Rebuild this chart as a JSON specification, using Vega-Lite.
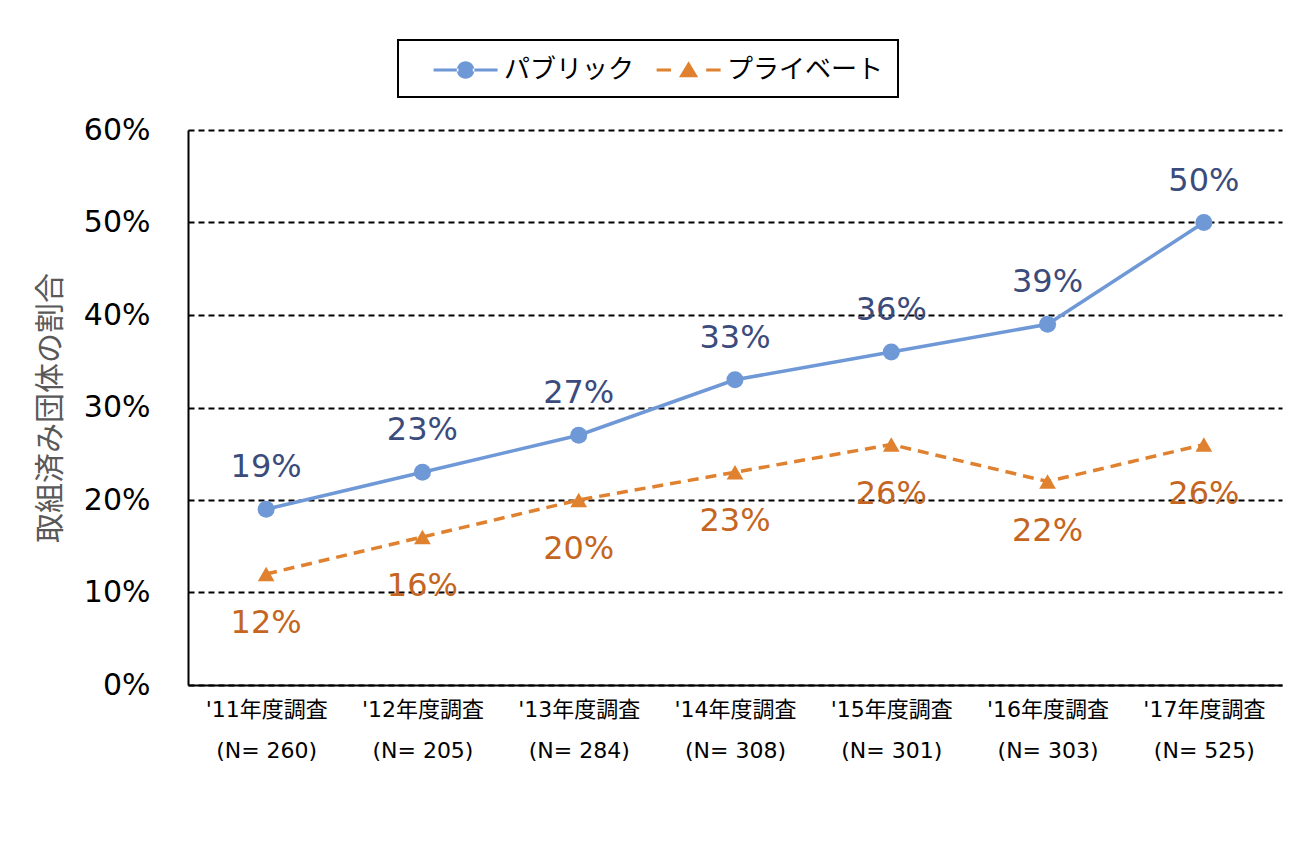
{
  "$schema": "https://vega.github.io/schema/vega-lite/v6.json",
  "autosize": {"type": "none"},
  "width": 1094,
  "height": 555,
  "padding": {"left": 188, "top": 130, "right": 31, "bottom": 157},
  "background": "white",
  "config": {
    "view": {"stroke": null},
    "font": "Noto Sans CJK JP"
  },
  "data": {
    "values": [
      {"year": "'11年度調査|(N= 260)", "series": "パブリック", "value": 0.19},
      {"year": "'12年度調査|(N= 205)", "series": "パブリック", "value": 0.23},
      {"year": "'13年度調査|(N= 284)", "series": "パブリック", "value": 0.27},
      {"year": "'14年度調査|(N= 308)", "series": "パブリック", "value": 0.33},
      {"year": "'15年度調査|(N= 301)", "series": "パブリック", "value": 0.36},
      {"year": "'16年度調査|(N= 303)", "series": "パブリック", "value": 0.39},
      {"year": "'17年度調査|(N= 525)", "series": "パブリック", "value": 0.50},
      {"year": "'11年度調査|(N= 260)", "series": "プライベート", "value": 0.12},
      {"year": "'12年度調査|(N= 205)", "series": "プライベート", "value": 0.16},
      {"year": "'13年度調査|(N= 284)", "series": "プライベート", "value": 0.20},
      {"year": "'14年度調査|(N= 308)", "series": "プライベート", "value": 0.23},
      {"year": "'15年度調査|(N= 301)", "series": "プライベート", "value": 0.26},
      {"year": "'16年度調査|(N= 303)", "series": "プライベート", "value": 0.22},
      {"year": "'17年度調査|(N= 525)", "series": "プライベート", "value": 0.26}
    ]
  },
  "encoding": {
    "x": {
      "field": "year", "type": "ordinal", "sort": null,
      "scale": {"type": "point", "padding": 0.5},
      "axis": {
        "title": null, "labelAngle": 0, "ticks": false, "grid": false,
        "domainColor": "black", "domainWidth": 2,
        "labelExpr": "split(datum.value, '|')",
        "labelFontSize": 22, "labelColor": "black", "labelLineHeight": 41,
        "labelPadding": 14, "labelFont": "DejaVu Sans, Noto Sans CJK JP"
      }
    },
    "y": {
      "field": "value", "type": "quantitative",
      "scale": {"domain": [0, 0.6]},
      "axis": {
        "title": "取組済み団体の割合", "titleFontSize": 30, "titleColor": "#595959",
        "titleFontWeight": "normal", "titlePadding": 18, "titleFont": "Noto Sans CJK JP",
        "format": ".0%", "values": [0, 0.1, 0.2, 0.3, 0.4, 0.5, 0.6],
        "labelFontSize": 30, "labelColor": "black", "labelPadding": 38,
        "labelFont": "DejaVu Sans",
        "ticks": false,
        "domainColor": "black", "domainWidth": 2,
        "grid": true, "gridColor": "black", "gridWidth": 2, "gridDash": [6, 4]
      }
    }
  },
  "layer": [
    {
      "transform": [{"filter": "datum.series == 'パブリック'"}],
      "mark": {"type": "line", "strokeWidth": 3.5, "color": "#6F98D6"},
      "encoding": {}
    },
    {
      "transform": [{"filter": "datum.series == 'プライベート'"}],
      "mark": {"type": "line", "strokeWidth": 3.5, "color": "#E0812F", "strokeDash": [11, 7]},
      "encoding": {}
    },
    {
      "mark": {"type": "point", "filled": true, "opacity": 0},
      "encoding": {
        "color": {"field": "series", "type": "nominal", "scale": {"domain": ["パブリック", "プライベート"], "range": ["#6F98D6", "#E0812F"]},
          "legend": {
            "title": null, "orient": "none", "legendX": 210, "legendY": -90,
            "direction": "horizontal", "strokeColor": "black",
            "padding": 14, "labelFontSize": 26, "labelColor": "black", "labelFont": "Noto Sans CJK JP",
            "symbolSize": 1024, "labelOffset": 60, "columnPadding": 0, "symbolStrokeWidth": 0,
            "symbolOpacity": 1,
            "encode": {
              "legend": {"update": {"strokeWidth": {"value": 2}}}
            }
          }
        },
        "shape": {"field": "series", "type": "nominal", "scale": {"domain": ["パブリック", "プライベート"], "range": [
          "M0.35,-0.1 H1.9 V0.1 H0.35 Z M2.8,-0.1 H4.35 V0.1 H2.8 Z M1.8,0 A0.55,0.55 0 1,0 2.9,0 A0.55,0.55 0 1,0 1.8,0 Z",
          "M0.35,-0.1 H1.25 V0.1 H0.35 Z M3.45,-0.1 H4.35 V0.1 H3.45 Z M2.35,-0.55 L2.95,0.45 L1.75,0.45 Z"
        ]}}
      }
    },
    {
      "transform": [{"filter": "datum.series == 'パブリック'"}],
      "mark": {"type": "point", "filled": true, "opacity": 1, "size": 290, "shape": "circle", "color": "#6F98D6"},
      "encoding": {}
    },
    {
      "transform": [{"filter": "datum.series == 'プライベート'"}],
      "mark": {"type": "point", "filled": true, "opacity": 1, "size": 280, "shape": "triangle-up", "color": "#E0812F"},
      "encoding": {}
    },
    {
      "transform": [{"filter": "datum.series == 'パブリック'"}],
      "mark": {"type": "text", "dy": -42, "fontSize": 32, "color": "#3B4C7C", "font": "DejaVu Sans"},
      "encoding": {"text": {"field": "value", "type": "quantitative", "format": ".0%"}}
    },
    {
      "transform": [{"filter": "datum.series == 'プライベート'"}],
      "mark": {"type": "text", "dy": 49, "fontSize": 32, "color": "#C4661F", "font": "DejaVu Sans"},
      "encoding": {"text": {"field": "value", "type": "quantitative", "format": ".0%"}}
    }
  ]
}
